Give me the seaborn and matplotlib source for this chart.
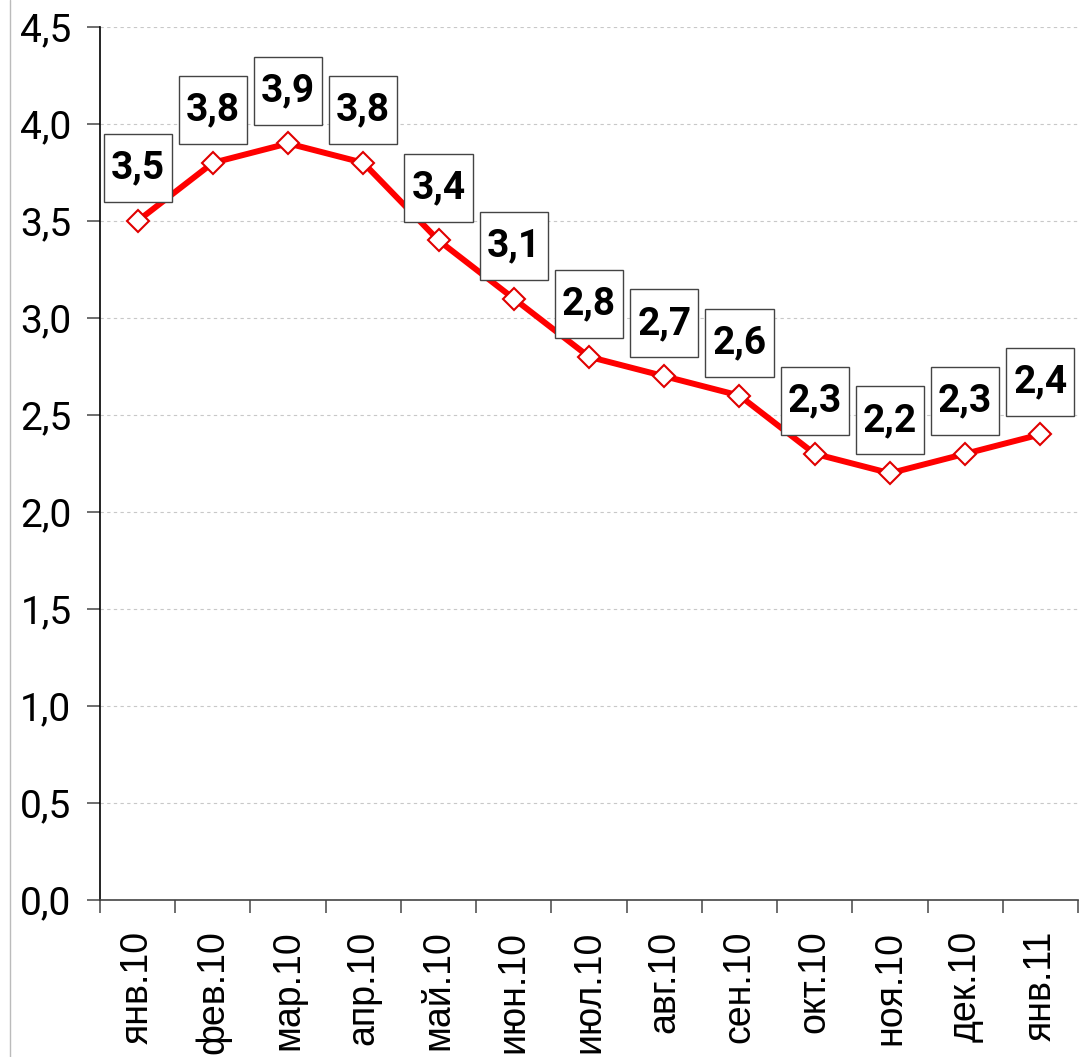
import matplotlib
matplotlib.use("Agg")
import matplotlib.pyplot as plt
import matplotlib.lines as mlines
from matplotlib.path import Path
import numpy as np
import pandas as pd
import seaborn as sns

months = ["янв.10", "фев.10", "мар.10", "апр.10", "май.10", "июн.10", "июл.10",
          "авг.10", "сен.10", "окт.10", "ноя.10", "дек.10", "янв.11"]
values = [3.5, 3.8, 3.9, 3.8, 3.4, 3.1, 2.8, 2.7, 2.6, 2.3, 2.2, 2.3, 2.4]
y_ticks = [0.0, 0.5, 1.0, 1.5, 2.0, 2.5, 3.0, 3.5, 4.0, 4.5]


def label_box(x0, y0, width, height, mutation_size):
    # square box with less padding left/right than top/bottom
    px = 0.18 * mutation_size
    py = 0.40 * mutation_size
    x0, x1 = x0 - px, x0 + width + px
    y0, y1 = y0 - py, y0 + height + py
    return Path([(x0, y0), (x1, y0), (x1, y1), (x0, y1), (x0, y0)], closed=True)


sns.set_style("white")
plt.rcParams["font.family"] = ["Roboto", "DejaVu Sans"]

df = pd.DataFrame({"month": months, "value": values})

fig = plt.figure(figsize=(10.79, 10.57), dpi=100)
ax = fig.add_axes([100 / 1079, 1 - 900 / 1057, 978 / 1079, 873 / 1057])

sns.lineplot(data=df, x="month", y="value", sort=False, ax=ax,
             color="#ff0000", linewidth=4.3, marker="D", markersize=11.5,
             markerfacecolor="white", markeredgecolor="#e00000",
             markeredgewidth=1.5)

for i, v in enumerate(values):
    ax.annotate(f"{v:.1f}".replace(".", ","), (i, v), xytext=(0, 38),
                textcoords="offset points", ha="center", va="center",
                fontsize=28, fontweight="bold", color="black",
                bbox=dict(boxstyle=label_box, fc="white",
                          ec="#444444", lw=1.0))

ax.set_xlim(-0.5, len(months) - 0.5)
ax.set_ylim(0, 4.5)
ax.set_yticks(y_ticks)
ax.set_yticklabels([f"{t:.1f}".replace(".", ",") for t in y_ticks], fontsize=28,
                   color="black")
ax.yaxis.grid(True, linestyle=(0, (3, 3)), color="#c8c8c8", linewidth=0.8)
ax.xaxis.grid(False)

ax.set_xticks(range(len(months)))
ax.set_xticklabels(months, rotation=90, fontsize=27, color="black",
                   family=["Liberation Sans", "DejaVu Sans"])
ax.set_xticks(np.arange(-0.5, len(months)), minor=True)
ax.tick_params(axis="x", which="major", length=0, pad=22)
ax.tick_params(axis="x", which="minor", length=9, width=1.2,
               color="#555555", direction="out", bottom=True)
ax.tick_params(axis="y", length=9.5, width=1.2, color="#555555", pad=11, left=True)

ax.set_xlabel("")
ax.set_ylabel("")
for side in ["top", "right"]:
    ax.spines[side].set_visible(False)
ax.spines["left"].set_color("black")
ax.spines["left"].set_linewidth(1.2)
ax.spines["bottom"].set_color("#444444")
ax.spines["bottom"].set_linewidth(1.2)

fig.add_artist(mlines.Line2D([10 / 1079, 10 / 1079], [0, 1], color="#bbbbbb",
                             linewidth=1.0, transform=fig.transFigure))

fig.savefig("out.png", dpi=100)
plt.close(fig)
